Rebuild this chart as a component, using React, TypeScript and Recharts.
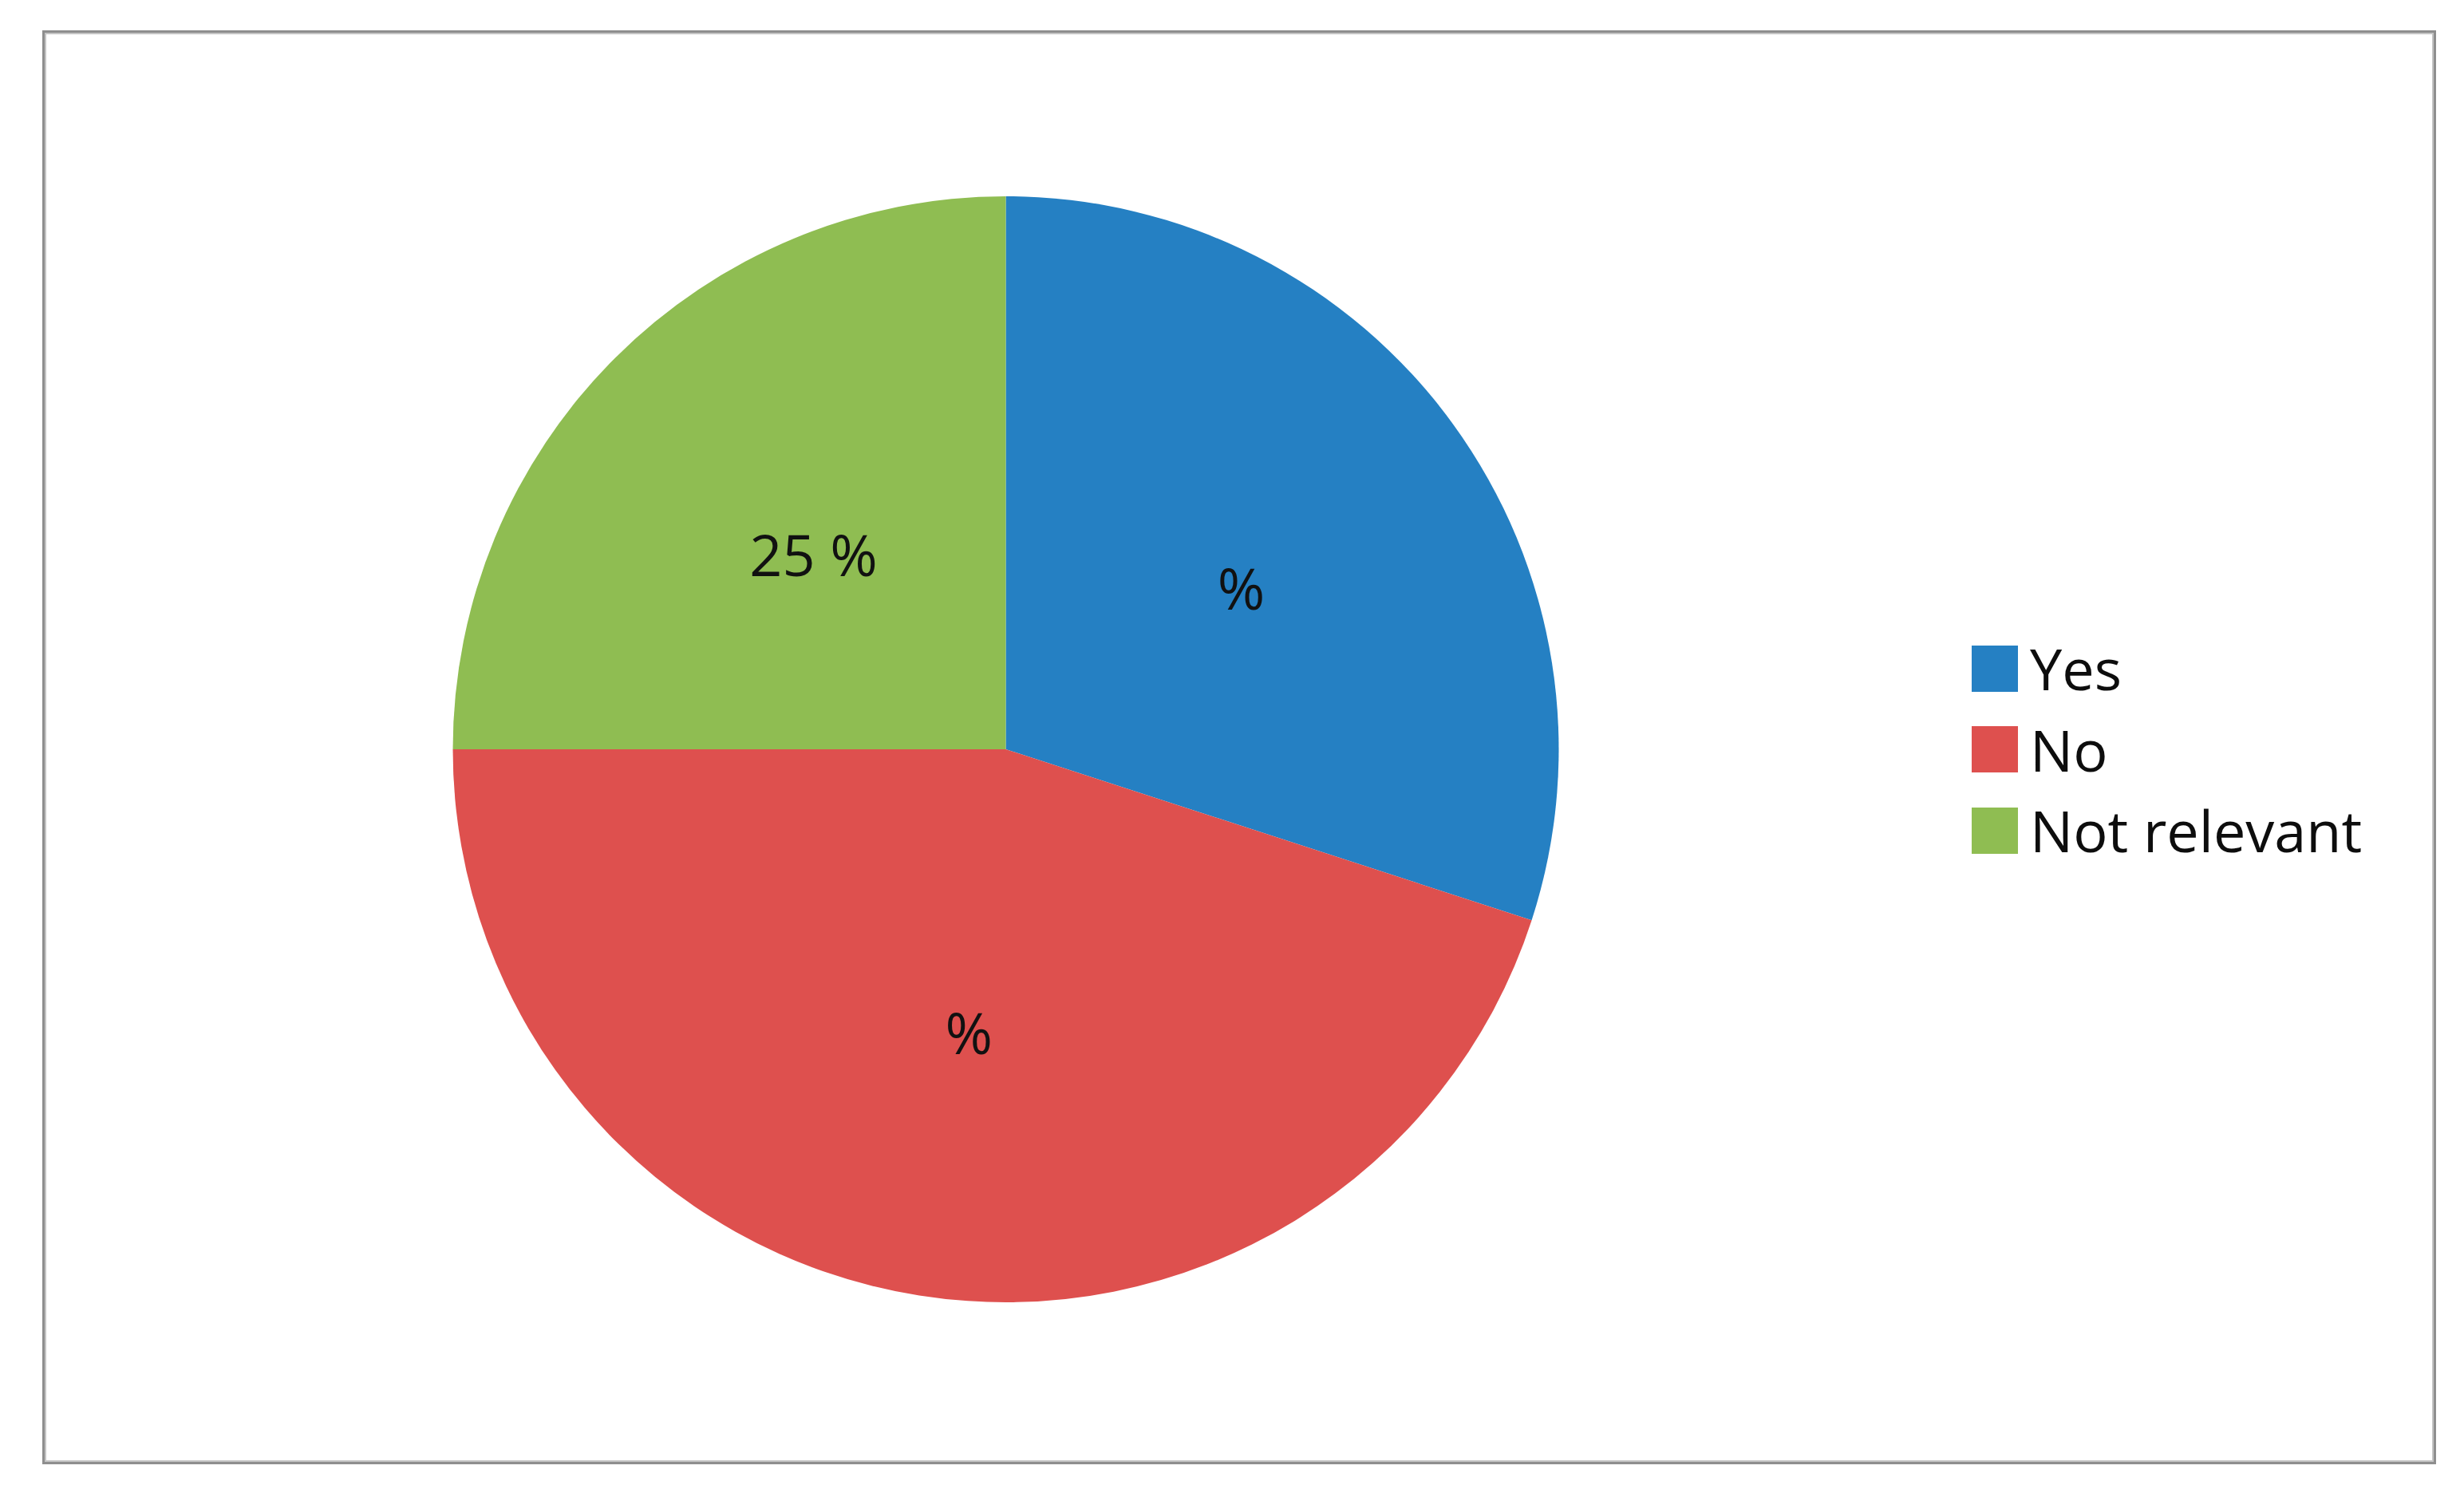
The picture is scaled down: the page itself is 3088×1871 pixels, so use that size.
import React from "react";
import { PieChart, Pie, Cell, Legend } from "recharts";

const categories = ["Yes", "No", "Not relevant"];
const values = [30, 45, 25];
const labelTexts = ["%", "%", "25 %"];
const colors = ["#2580C3", "#DE504E", "#8FBD52"];

const data = categories.map((name, i) => ({ name, value: values[i], label: labelTexts[i] }));

const FONT = "'Open Sans', 'Noto Sans', sans-serif";
const RAD = Math.PI / 180;

const renderLabel = (props: any) => {
  const { cx, cy, midAngle, outerRadius, index } = props;
  const r = outerRadius * 0.51;
  const x = cx + r * Math.cos(-midAngle * RAD) + 9;
  const y = cy + r * Math.sin(-midAngle * RAD) + 5;
  return (
    <text
      x={x}
      y={y}
      textAnchor="middle"
      dominantBaseline="central"
      fontFamily={FONT}
      fontSize={72}
      fill="#111"
    >
      {data[index].label}
    </text>
  );
};

const renderLegend = () => {
  return (
    <div style={{ display: "flex", flexDirection: "column" }}>
      {categories.map((name, i) => (
        <div
          key={name}
          style={{ display: "flex", alignItems: "center", height: 101.5 }}
        >
          <div style={{ width: 58, height: 58, background: colors[i] }} />
          <span
            style={{
              marginLeft: 15,
              fontFamily: FONT,
              fontSize: 72,
              lineHeight: "101px",
              color: "#0d0d0d",
            }}
          >
            {name}
          </span>
        </div>
      ))}
    </div>
  );
};

export default function App() {
  return (
    <div style={{ position: "relative", width: 3072, height: 1855, background: "#fff" }}>
      <div
        style={{
          position: "absolute",
          left: 45,
          top: 30,
          width: 3000,
          height: 1797,
          boxSizing: "border-box",
          border: "3px solid #8e8e8e",
          boxShadow: "inset 0 0 0 2px #c4c4c4",
          pointerEvents: "none",
        }}
      />
      <PieChart width={3072} height={1855} margin={{ top: 0, right: 0, bottom: 0, left: 0 }}>
        <Pie
          data={data}
          dataKey="value"
          nameKey="name"
          cx={1252.5}
          cy={931}
          outerRadius={693}
          startAngle={90}
          endAngle={-270}
          stroke="none"
          label={renderLabel}
          labelLine={false}
          isAnimationActive={false}
        >
          {data.map((d, i) => (
            <Cell key={d.name} fill={colors[i]} />
          ))}
        </Pie>
        <Legend
          layout="vertical"
          verticalAlign="middle"
          align="right"
          content={renderLegend}
          wrapperStyle={{ left: 2463, top: 779, width: 560 }}
        />
      </PieChart>
    </div>
  );
}
